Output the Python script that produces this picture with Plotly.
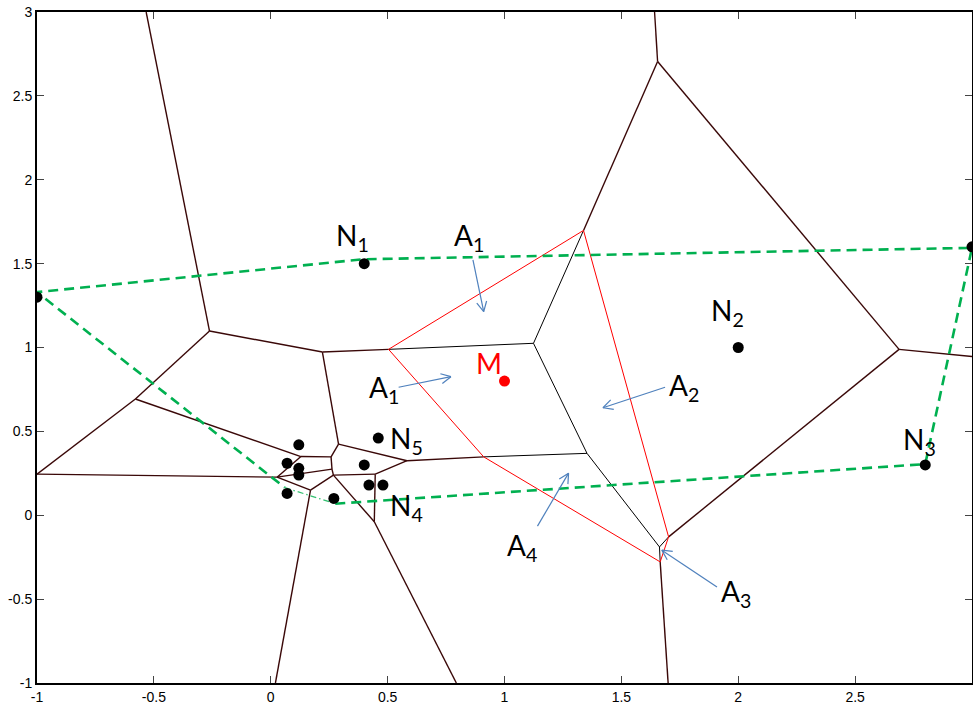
import math
import plotly.graph_objects as go

# ---------------- data ----------------
# sample nodes (black dots)
node_x = [-1.00, 0.40, 2.00, 2.80, 3.00, 0.12, 0.07, 0.12, 0.12, 0.07, 0.27, 0.40, 0.46, 0.42, 0.48]
node_y = [1.30, 1.50, 1.00, 0.30, 1.60, 0.42, 0.31, 0.28, 0.24, 0.13, 0.10, 0.30, 0.46, 0.18, 0.18]

# inserted point M
m_x = [1.0]
m_y = [0.8]

# Voronoi vertices
vert_names = ["Vt", "V1", "V2", "V3", "L", "a", "c1", "c2", "f", "c3", "c4", "c5", "B1",
              "d", "e", "g", "B2", "P1", "P2", "P3", "P4", "P5", "S", "R", "Q",
              "T", "Tt", "U", "Ur", "B3"]
vert_x = [-0.533, -0.262, 0.221, -0.579, -1.000, 0.129, 0.290, 0.258, 0.262, 0.268, 0.027, 0.170, 0.020,
          0.447, 0.583, 0.443, 0.794, 0.504, 1.338, 1.702, 1.666, 0.911, 1.124, 1.353, 1.663,
          1.655, 1.642, 2.688, 3.000, 1.700]
vert_y = [3.000, 1.098, 0.973, 0.693, 0.245, 0.350, 0.424, 0.348, 0.275, 0.239, 0.227, 0.150, -1.000,
          0.245, 0.325, -0.039, -1.000, 0.989, 1.698, -0.129, -0.278, 0.348, 1.025, 0.369, -0.189,
          2.705, 3.000, 0.989, 0.946, -1.000]

# original Voronoi edges (dark lines)
old_edges = [("Vt", "V1"), ("V1", "V2"), ("V1", "V3"), ("V3", "L"), ("V3", "a"), ("L", "c4"),
             ("V2", "P1"), ("V2", "c1"), ("a", "c2"), ("a", "c4"), ("c4", "f"), ("c4", "c5"),
             ("c2", "c1"), ("c2", "f"), ("f", "c3"), ("c3", "c5"), ("c5", "B1"), ("c3", "d"),
             ("c3", "g"), ("d", "g"), ("g", "B2"), ("d", "e"), ("c1", "e"), ("e", "P5"),
             ("P2", "T"), ("T", "Tt"), ("T", "U"), ("U", "Ur"), ("U", "P3"), ("P4", "B3")]
# old edges lying inside the new cell of M (black)
inner_edges = [("P1", "S"), ("S", "P2"), ("S", "R"), ("R", "P5"), ("R", "Q"), ("Q", "P3"), ("Q", "P4")]
# new Voronoi cell of M (red)
cell_order = ["P1", "P2", "P3", "P4", "P5", "P1"]

# convex hull (green)
hull_dash_x = [0.276, 2.80, 3.00, 0.397, -1.00, 0.060]
hull_dash_y = [0.069, 0.305, 1.594, 1.526, 1.330, 0.165]
hull_dot_x = [0.060, 0.276]
hull_dot_y = [0.165, 0.069]

# arrows (tail -> head)
arrow_tail_x = [0.865, 0.547, 1.687, 1.141, 1.909]
arrow_tail_y = [1.522, 0.763, 0.763, -0.065, -0.427]
arrow_head_x = [0.911, 0.771, 1.421, 1.274, 1.673]
arrow_head_y = [1.214, 0.826, 0.641, 0.251, -0.208]

# labels
label_text = ["N<sub>1</sub>", "A<sub>1</sub>", "N<sub>2</sub>", "A<sub>1</sub>", "A<sub>2</sub>",
              "N<sub>5</sub>", "N<sub>4</sub>", "N<sub>3</sub>", "A<sub>4</sub>", "A<sub>3</sub>"]
label_x = [0.271, 0.775, 1.875, 0.412, 1.695, 0.502, 0.502, 2.696, 1.002, 1.918]
label_y = [1.656, 1.656, 1.209, 0.750, 0.765, 0.449, 0.052, 0.443, -0.192, -0.461]
m_label_x = 0.870
m_label_y = 0.908

# ---------------- figure ----------------
W, H = 973, 704
ML, MR, MT, MB = 37, 1, 12, 21
XR = [-1, 3]
YR = [-1, 3]
sx = (W - ML - MR) / (XR[1] - XR[0])
sy = (H - MT - MB) / (YR[1] - YR[0])

vx = dict(zip(vert_names, vert_x))
vy = dict(zip(vert_names, vert_y))


def seg_xy(edges):
    xs, ys = [], []
    for p, q in edges:
        xs += [vx[p], vx[q], None]
        ys += [vy[p], vy[q], None]
    return xs, ys


fig = go.Figure()

ox, oy = seg_xy(old_edges)
fig.add_trace(go.Scatter(x=ox, y=oy, mode="lines", line=dict(color="#3a0808", width=1.4),
                         hoverinfo="skip", showlegend=False))
ix, iy = seg_xy(inner_edges)
fig.add_trace(go.Scatter(x=ix, y=iy, mode="lines", line=dict(color="#000000", width=1.0),
                         hoverinfo="skip", showlegend=False))
fig.add_trace(go.Scatter(x=[vx[n] for n in cell_order], y=[vy[n] for n in cell_order], mode="lines",
                         line=dict(color="#ff0000", width=1.0), hoverinfo="skip", showlegend=False))

fig.add_trace(go.Scatter(x=hull_dash_x, y=hull_dash_y, mode="lines",
                         line=dict(color="#00b050", width=2.6, dash="10px,6px"),
                         hoverinfo="skip", showlegend=False))
fig.add_trace(go.Scatter(x=hull_dot_x, y=hull_dot_y, mode="lines",
                         line=dict(color="#33c070", width=1.3, dash="6px,3px,1.5px,3px"),
                         hoverinfo="skip", showlegend=False))

# arrows: shaft plus open V head
ax_list, ay_list = [], []
ARM = 11.0
ANG = math.radians(27)
for tx, ty, hx, hy in zip(arrow_tail_x, arrow_tail_y, arrow_head_x, arrow_head_y):
    ax_list += [tx, hx, None]
    ay_list += [ty, hy, None]
    dxp = (hx - tx) * sx
    dyp = (hy - ty) * sy
    n = math.hypot(dxp, dyp)
    ux, uy = dxp / n, dyp / n
    for s in (1, -1):
        c, si = math.cos(s * ANG), math.sin(s * ANG)
        rx = ux * c - uy * si
        ry = ux * si + uy * c
        ax_list += [hx - ARM * rx / sx, hx, None]
        ay_list += [hy - ARM * ry / sy, hy, None]
fig.add_trace(go.Scatter(x=ax_list, y=ay_list, mode="lines", line=dict(color="#4f81bd", width=1.2),
                         hoverinfo="skip", showlegend=False))

fig.add_trace(go.Scatter(x=node_x, y=node_y, mode="markers",
                         marker=dict(color="#000000", size=11), hoverinfo="skip", showlegend=False))
fig.add_trace(go.Scatter(x=m_x, y=m_y, mode="markers",
                         marker=dict(color="#ff0000", size=11), hoverinfo="skip", showlegend=False))

LABEL_FONT = dict(family="Lato, 'Noto Sans', sans-serif", size=28, color="#000000")
for t, x, y in zip(label_text, label_x, label_y):
    fig.add_annotation(x=x, y=y, xref="x", yref="y", text=t, showarrow=False,
                       xanchor="left", yanchor="middle", font=LABEL_FONT)
fig.add_annotation(x=m_label_x, y=m_label_y, xref="x", yref="y", text="M", showarrow=False,
                   xanchor="left", yanchor="middle",
                   font=dict(family="Lato, 'Noto Sans', sans-serif", size=28, color="#ff0000"))

axis_common = dict(showgrid=False, zeroline=False, showline=True, linecolor="#000000", linewidth=2,
                   mirror="ticks", ticks="inside", ticklen=7, tickwidth=1, tickcolor="#444444",
                   tickfont=dict(family="'Liberation Sans', Arial, sans-serif", size=14, color="#000000"),
                   automargin=False)
tick_vals = [-1, -0.5, 0, 0.5, 1, 1.5, 2, 2.5, 3]
tick_text = ["-1", "-0.5", "0", "0.5", "1", "1.5", "2", "2.5", "3"]
fig.update_xaxes(range=XR, tickvals=tick_vals, ticktext=tick_text, **axis_common)
fig.update_yaxes(range=YR, tickvals=tick_vals, ticktext=tick_text, **axis_common)

fig.update_layout(width=W, height=H, margin=dict(l=ML, r=MR, t=MT, b=MB, autoexpand=False),
                  paper_bgcolor="#ffffff", plot_bgcolor="#ffffff", showlegend=False)

fig.write_html("out.html", config={"displayModeBar": False},
               post_script="document.body.style.margin='0';document.body.style.overflow='hidden';")
